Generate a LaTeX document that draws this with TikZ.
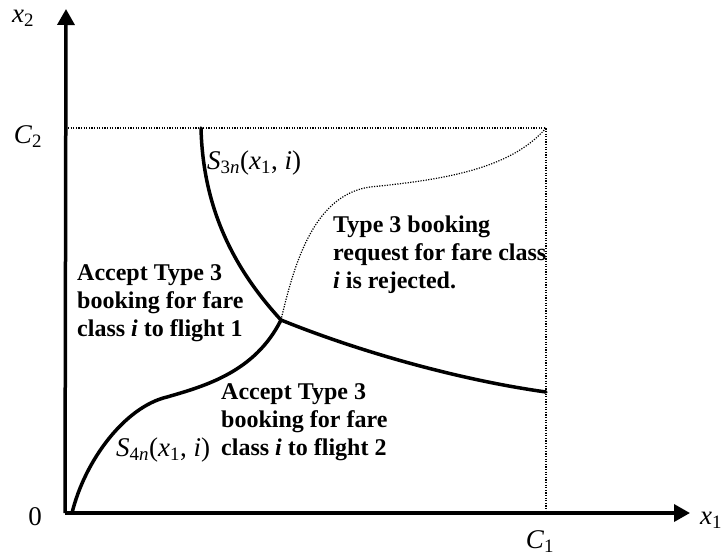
\documentclass[tikz,border=0pt]{standalone}
\usepackage{fontspec}
\setmainfont{Liberation Serif}
\usetikzlibrary{arrows.meta}

\begin{document}
\begin{tikzpicture}[x=1pt, y=-1pt,
    axis/.style={line width=3.5pt, -{Triangle[length=16pt, width=17pt]}},
    bound/.style={line width=3.5pt, line cap=round},
    guide/.style={line width=1.2pt, dash pattern=on 1.2pt off 1.4pt},
    region/.style={anchor=west, align=left, inner sep=0pt, font=\fontsize{24}{28}\selectfont\bfseries},
    lbl/.style={inner sep=0pt, font=\fontsize{27}{30}\selectfont}]

    \useasboundingbox (0,0) rectangle (722,557);

    % Axes
    \coordinate (o) at (65,513);
    \coordinate (ytip) at (66,9);
    \coordinate (xtip) at (690,513);
    \draw[axis] (o) -- (ytip);
    \draw[axis] (o) -- (xtip);
    \node[lbl] (x2) at (23,18) {\textit{x}\textsubscript{2}};
    \node[lbl] (x1) at (711,520) {\textit{x}\textsubscript{1}};
    \node[lbl] (zero) at (35,517) {0};
    \node[lbl] (c2) at (28,137) {\textit{C}\textsubscript{2}};
    \node[lbl] (c1) at (540,542) {\textit{C}\textsubscript{1}};

    % Capacity box
    \coordinate (c2y) at (68,128);
    \coordinate (corner) at (546,128);
    \coordinate (c1x) at (546,513);
    \draw[guide] (c2y) -- (corner) -- (c1x);

    % Switching curves
    \coordinate (jn) at (281,320);
    \coordinate (s3top) at (201,128);
    \coordinate (s3end) at (546,392);
    \coordinate (s4foot) at (72,513);
    \draw[bound] (s3top) .. controls (203,210) and (235,270) .. (jn);
    \draw[bound] (jn) .. controls (360,352) and (460,380) .. (s3end);
    \draw[bound] (s4foot) .. controls (85,460) and (125,407) .. (167,397)
        .. controls (205,386) and (255,372) .. (jn);
    \draw[guide] (jn) .. controls (295,260) and (315,195) .. (370,187)
        .. controls (440,180) and (510,170) .. (corner);

    % Curve labels
    \node[lbl, anchor=west] (s3) at (207,163) {\textit{S}\textsubscript{3\textit{n}}(\textit{x}\textsubscript{1}, \textit{i})};
    \node[lbl, anchor=west] (s4) at (116,450) {\textit{S}\textsubscript{4\textit{n}}(\textit{x}\textsubscript{1}, \textit{i})};

    % Regions
    \node[region] (rej) at (333,255) {Type 3 booking\\request for fare class\\\textit{i} is rejected.};
    \node[region] (fl1) at (77,303) {Accept Type 3\\booking for fare\\class \textit{i} to flight 1};
    \node[region] (fl2) at (221,422) {Accept Type 3\\booking for fare\\class \textit{i} to flight 2};
\end{tikzpicture}
\end{document}
